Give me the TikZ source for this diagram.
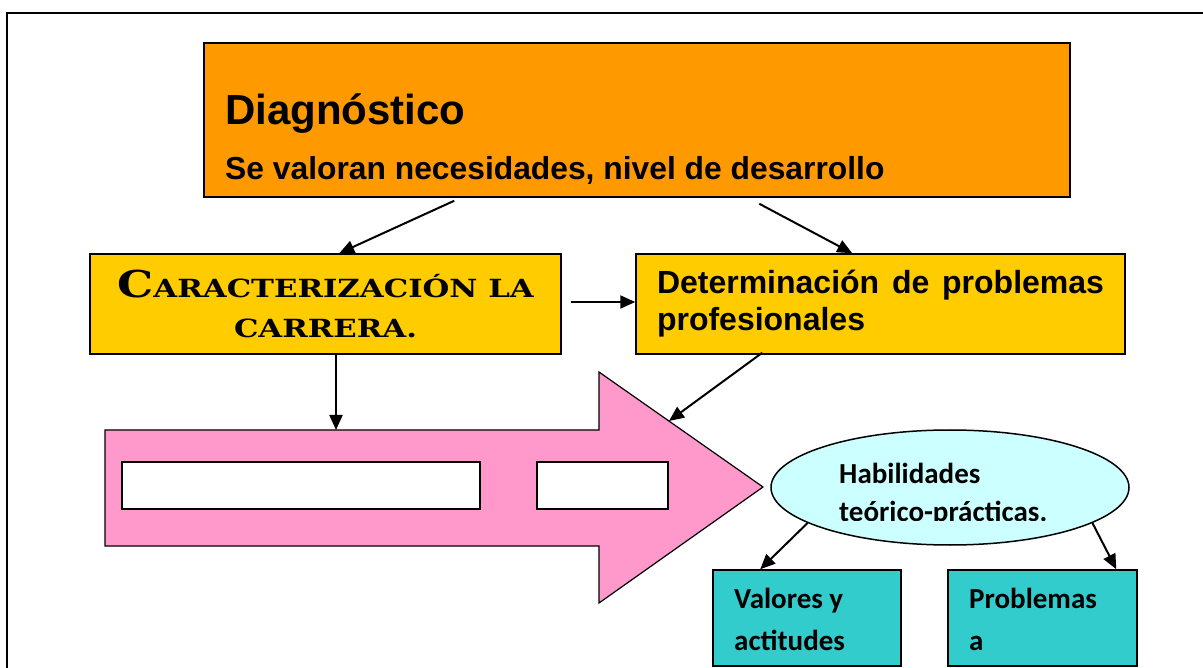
\documentclass[tikz,border=0pt]{standalone}
\usepackage{fontspec}
\usepackage{tikz}
\usepackage{xcolor}
\usetikzlibrary{
    shapes.geometric,
    arrows.meta,
    positioning,
    calc
}
\newfontfamily\arialfont{Liberation Sans}
\newfontfamily\calibrifont{Carlito}
\newfontfamily\copperfont[FakeStretch=1.23]{DejaVu Serif}
\definecolor{diagnosis}{HTML}{FF9900}
\definecolor{stage}{HTML}{FFCC00}
\definecolor{route}{HTML}{FF99CC}
\definecolor{skill}{HTML}{CCFFFF}
\definecolor{outcome}{HTML}{33CCCC}
% fake small caps: big first letter, small rest
\newcommand{\fakesc}[2]{{\fontsize{37}{40}\selectfont #1}{\fontsize{25}{40}\selectfont #2}}
\tikzset{
    % Coloured box style
    stagebox/.style={
        rectangle,
        draw=black,
        fill=#1,
        line width=1.5pt,
        inner sep=0pt
    },
    % Empty slot inside the big arrow
    slot/.style={
        rectangle,
        draw=black,
        fill=white,
        line width=1.5pt,
        inner sep=0pt
    },
    % Ellipse style
    skillbubble/.style={
        ellipse,
        draw=black,
        fill=skill,
        line width=1.5pt,
        inner sep=0pt
    },
    % Arrow style
    link/.style={
        -{Triangle[length=15pt, width=13pt]},
        line width=2pt,
        draw=black
    },
    % Label styles
    arial text/.style={
        font=\arialfont\bfseries,
        anchor=base west,
        inner sep=0pt
    },
    calibri text/.style={
        font=\calibrifont\bfseries\fontsize{29}{40}\selectfont,
        anchor=base west,
        inner sep=0pt,
        align=left
    }
}

\begin{document}
\begin{tikzpicture}[x=1pt, y=-1pt]
    \useasboundingbox (0,0) rectangle (1203,668);

    % Frame
    \draw[line width=2pt] (7,700) -- (7,13) -- (1230,13);

    % Diagnosis
    \node[stagebox=diagnosis, minimum width=866pt, minimum height=154pt] (diag) at (637,120) {};
    \node[arial text, font=\arialfont\bfseries\fontsize{42}{48}\selectfont] (diagtitle) at (225,125) {Diagnóstico};
    \node[arial text, font=\arialfont\bfseries\fontsize{31.8}{36}\selectfont] (diagnote) at (225,180) {Se valoran necesidades, nivel de desarrollo};

    % Second row
    \node[stagebox=stage, minimum width=471pt, minimum height=100pt, align=center,
          font=\copperfont\bfseries\fontsize{25}{40}\selectfont] (cara) at (325.5,304)
          {\fakesc{C}{ARACTERIZACIÓN LA}\\CARRERA.};
    \node[stagebox=stage, minimum width=489pt, minimum height=100pt, text width=447pt, align=justify,
          font=\arialfont\bfseries\fontsize{32}{37}\selectfont] (det) at (880.5,304)
          {Determinación de problemas profesionales};

    % Big arrow
    \draw[fill=route, line width=1.2pt] (105,430) -- (599,430) -- (599,372) -- (763,487)
        -- (599,603) -- (599,546) -- (105,546) -- cycle;
    \coordinate (shafttop) at (336,430);
    \coordinate (headedge) at (669,421);
    \node[slot, minimum width=358pt, minimum height=47pt] (slotA) at (301,485.5) {};
    \node[slot, minimum width=131pt, minimum height=47pt] (slotB) at (602.5,485.5) {};

    % Skills
    \node[skillbubble, minimum width=358pt, minimum height=115pt] (hab) at (950,487.5) {};
    \begin{scope}
        \clip (700,440) rectangle (1150,520);
        \node[calibri text, font=\calibrifont\bfseries\fontsize{29}{38}\selectfont] (habtext) at (839,521)
            {Habilidades\\teórico-prácticas.};
    \end{scope}

    % Outcomes
    \node[stagebox=outcome, minimum width=188pt, minimum height=96pt] (valores) at (807,618) {};
    \node[stagebox=outcome, minimum width=189pt, minimum height=96pt] (problemas) at (1042.5,618) {};
    \node[calibri text, font=\calibrifont\bfseries\fontsize{29}{42}\selectfont] (valtext) at (734,650) {Valores y\\actitudes};
    \node[calibri text, font=\calibrifont\bfseries\fontsize{29}{42}\selectfont] (probtext) at (969,650) {Problemas\\a};

    % Connections
    \draw[link] ($(diag.south west)+(251,3)$) -- ($(cara.north west)+(250,0)$);
    \draw[link] ($(diag.south west)+(556,6)$) -- ($(det.north west)+(217,0)$);
    \draw[link] ($(cara.east)+(9,-2)$) -- ($(det.west)+(0,-2)$);
    \draw[link] ($(cara.south)+(10.5,0)$) -- (shafttop);
    \draw[link] ($(det.south west)+(127,-2)$) -- (headedge);
    \draw[link] (hab.194) -- ($(valores.north west)+(48,0)$);
    \draw[link] (hab.-14) -- ($(problemas.north west)+(169,0)$);

\end{tikzpicture}
\end{document}
